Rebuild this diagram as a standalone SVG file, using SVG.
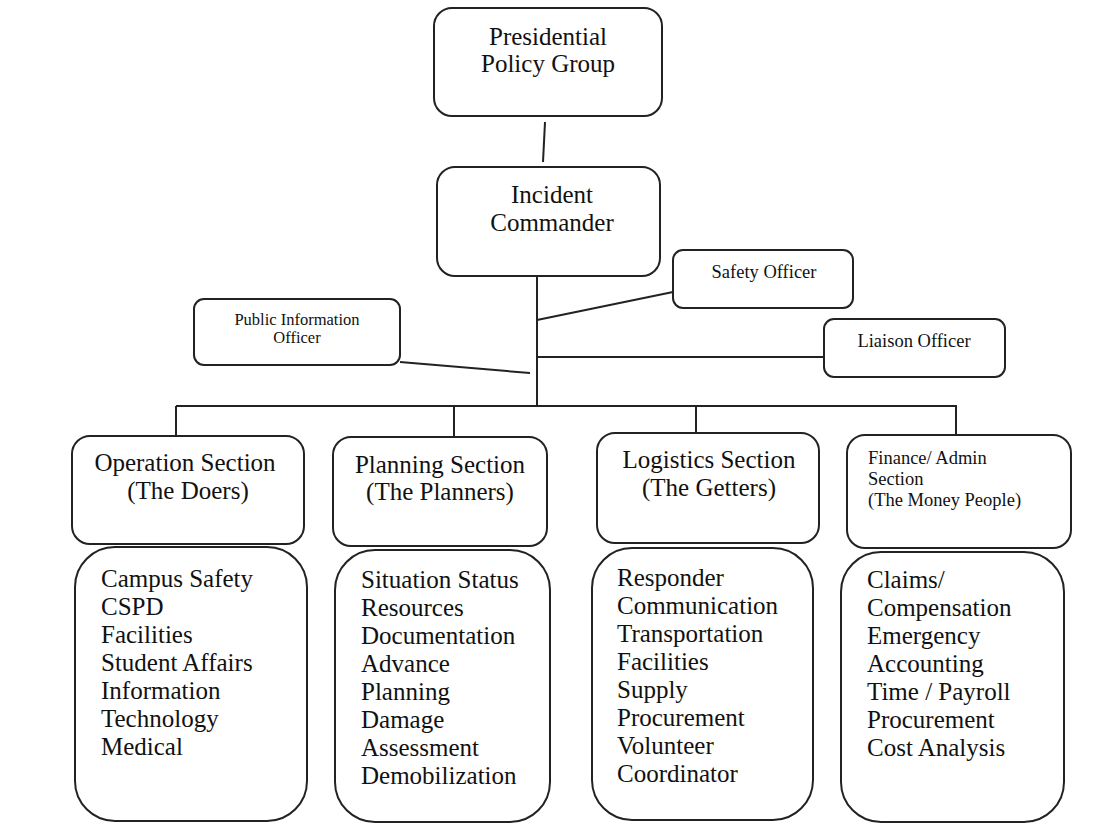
<svg xmlns="http://www.w3.org/2000/svg" width="1120" height="829" viewBox="0 0 1120 829">
<style>
.box{fill:#fff;stroke:#222;stroke-width:2}
.ln{stroke:#222;stroke-width:2;fill:none}
text{font-family:"Liberation Serif","Times New Roman",serif;fill:#111}
.big{font-size:25px}
.mid{font-size:18.5px}
.sm{font-size:16.5px}
.c{text-anchor:middle}
</style>
<rect width="1120" height="829" fill="#fff"/>
<g id="connectors">
<line class="ln" x1="545" y1="122" x2="543" y2="162"/>
<line class="ln" x1="537" y1="276" x2="537" y2="406"/>
<line class="ln" x1="537" y1="320" x2="673" y2="292"/>
<line class="ln" x1="537" y1="357" x2="824" y2="357"/>
<line class="ln" x1="400" y1="362" x2="530" y2="373"/>
<line class="ln" x1="176" y1="406" x2="957" y2="406"/>
<line class="ln" x1="176" y1="406" x2="176" y2="436"/>
<line class="ln" x1="454" y1="406" x2="454" y2="437"/>
<line class="ln" x1="696" y1="406" x2="696" y2="434"/>
<line class="ln" x1="956" y1="406" x2="956" y2="435"/>
</g>
<g id="presidential">
<rect class="box" x="434" y="8" width="228" height="108" rx="18"/>
<text class="big c" x="548" y="45">Presidential</text>
<text class="big c" x="548" y="72">Policy Group</text>
</g>
<g id="incident">
<rect class="box" x="437" y="167" width="223" height="109" rx="18"/>
<text class="big c" x="552" y="203">Incident</text>
<text class="big c" x="552" y="231">Commander</text>
</g>
<g id="safety">
<rect class="box" x="673" y="250" width="180" height="58" rx="10"/>
<text class="mid c" x="764" y="278">Safety Officer</text>
</g>
<g id="pio">
<rect class="box" x="194" y="299" width="206" height="66" rx="10"/>
<text class="sm c" x="297" y="325">Public Information</text>
<text class="sm c" x="297" y="343">Officer</text>
</g>
<g id="liaison">
<rect class="box" x="824" y="319" width="181" height="58" rx="10"/>
<text class="mid c" x="914" y="347">Liaison Officer</text>
</g>
<g id="operation">
<rect class="box" x="72" y="436" width="232" height="108" rx="18"/>
<text class="big c" x="185" y="471">Operation Section</text>
<text class="big c" x="188" y="499">(The Doers)</text>
</g>
<g id="planning">
<rect class="box" x="333" y="437" width="214" height="109" rx="18"/>
<text class="big c" x="440" y="473">Planning Section</text>
<text class="big c" x="440" y="500">(The Planners)</text>
</g>
<g id="logistics">
<rect class="box" x="597" y="433" width="222" height="110" rx="18"/>
<text class="big c" x="709" y="468">Logistics Section</text>
<text class="big c" x="709" y="496">(The Getters)</text>
</g>
<g id="finance">
<rect class="box" x="847" y="435" width="224" height="113" rx="18"/>
<text class="mid" x="868" y="464">Finance/ Admin</text>
<text class="mid" x="868" y="485">Section</text>
<text class="mid" x="868" y="506">(The Money People)</text>
</g>
<g id="operation-list">
<rect class="box" x="75" y="547" width="232" height="274" rx="40"/>
<text class="big" x="101" y="587">Campus Safety</text>
<text class="big" x="101" y="615">CSPD</text>
<text class="big" x="101" y="643">Facilities</text>
<text class="big" x="101" y="671">Student Affairs</text>
<text class="big" x="101" y="699">Information</text>
<text class="big" x="101" y="727">Technology</text>
<text class="big" x="101" y="755">Medical</text>
</g>
<g id="planning-list">
<rect class="box" x="335" y="550" width="215" height="272" rx="40"/>
<text class="big" x="361" y="588">Situation Status</text>
<text class="big" x="361" y="616">Resources</text>
<text class="big" x="361" y="644">Documentation</text>
<text class="big" x="361" y="672">Advance</text>
<text class="big" x="361" y="700">Planning</text>
<text class="big" x="361" y="728">Damage</text>
<text class="big" x="361" y="756">Assessment</text>
<text class="big" x="361" y="784">Demobilization</text>
</g>
<g id="logistics-list">
<rect class="box" x="592" y="548" width="221" height="272" rx="40"/>
<text class="big" x="617" y="586">Responder</text>
<text class="big" x="617" y="614">Communication</text>
<text class="big" x="617" y="642">Transportation</text>
<text class="big" x="617" y="670">Facilities</text>
<text class="big" x="617" y="698">Supply</text>
<text class="big" x="617" y="726">Procurement</text>
<text class="big" x="617" y="754">Volunteer</text>
<text class="big" x="617" y="782">Coordinator</text>
</g>
<g id="finance-list">
<rect class="box" x="841" y="552" width="223" height="270" rx="40"/>
<text class="big" x="867" y="588">Claims/</text>
<text class="big" x="867" y="616">Compensation</text>
<text class="big" x="867" y="644">Emergency</text>
<text class="big" x="867" y="672">Accounting</text>
<text class="big" x="867" y="700">Time / Payroll</text>
<text class="big" x="867" y="728">Procurement</text>
<text class="big" x="867" y="756">Cost Analysis</text>
</g>
</svg>
